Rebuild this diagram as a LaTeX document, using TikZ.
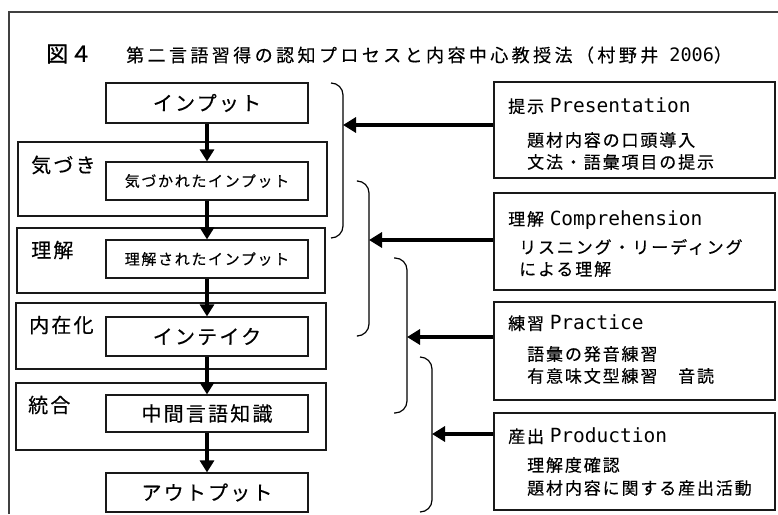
\documentclass[tikz,border=0pt]{standalone}
\usepackage{fontspec}
\setmainfont{Noto Sans CJK JP}
\newfontfamily\jp[LetterSpace=11,FakeBold=0.35]{Noto Sans CJK JP}
\newfontfamily\jpt[LetterSpace=19,FakeBold=0.35]{Noto Sans CJK JP}
\newfontfamily\jpf[LetterSpace=8,FakeBold=0.9]{Noto Sans CJK JP}
\newfontfamily\mono{DejaVu Sans Mono}
\usetikzlibrary{arrows.meta}
\begin{document}
\begin{tikzpicture}[x=1pt,y=-1pt,
  box/.style={draw=black!90, line width=1.2pt, minimum width=202pt, inner sep=0pt, font=\jp\fontsize{20}{22}\selectfont},
  grp/.style={draw=black!90, line width=1.2pt, inner sep=0pt},
  rbox/.style={draw=black!90, line width=1.2pt, inner sep=0pt, minimum width=281pt},
  glabel/.style={anchor=west, inner sep=0pt, font=\jp\fontsize{20}{22}\selectfont},
  rhead/.style={anchor=west, inner sep=0pt, font=\jp\fontsize{17}{19}\selectfont},
  rline/.style={anchor=west, inner sep=0pt, font=\jp\fontsize{17}{19}\selectfont},
  flow/.style={line width=3.4pt, -{Triangle[length=12pt,width=14pt]}},
  feed/.style={line width=3.4pt, -{Triangle[length=13pt,width=15pt]}},
  bracket/.style={line width=1.2pt, rounded corners=12pt}]
\useasboundingbox (0,0) rectangle (778,514);
% outer frame
\coordinate (fa) at (9,514);
\coordinate (fb) at (9,12);
\coordinate (fc) at (778,12);
\draw[line width=1.5pt, black!75] (fa) -- (fb) -- (fc);
% title
\node[anchor=west, inner sep=0pt, font=\jpf\fontsize{22}{24}\selectfont] (fig) at (46,54) {図４};
\node[anchor=west, inner sep=0pt, font=\jpt\fontsize{18}{20}\selectfont] (title) at (126,55) {第二言語習得の認知プロセスと内容中心教授法（村野井{\mono\fontsize{18.5}{20}\selectfont{} 2006}）};
% groups
\node[grp, minimum width=309pt, minimum height=74pt] (g1) at (172.5,179) {};
\node[grp, minimum width=308pt, minimum height=65pt] (g2) at (171,260.5) {};
\node[grp, minimum width=310pt, minimum height=66pt] (g3) at (171,336) {};
\node[grp, minimum width=310pt, minimum height=67pt] (g4) at (171,416.5) {};
\node[glabel] (l1) at (31,165) {気づき};
\node[glabel] (l2) at (31,250) {理解};
\node[glabel] (l3) at (29,325) {内在化};
\node[glabel] (l4) at (28,405) {統合};
% flow boxes
\node[box, minimum height=40pt] (in) at (207,103) {インプット};
\node[box, minimum height=38pt, font=\jp\fontsize{15}{17}\selectfont] (kz) at (207,181) {気づかれたインプット};
\node[box, minimum height=38pt, font=\jp\fontsize{15}{17}\selectfont] (rk) at (207,259) {理解されたインプット};
\node[box, minimum height=39pt] (it) at (207,336.5) {インテイク};
\node[box, minimum height=37pt] (il) at (207,413.5) {中間言語知識};
\node[box, minimum height=39pt] (out) at (207,492.5) {アウトプット};
\draw[flow] (in) -- (kz);
\draw[flow] (kz) -- (rk);
\draw[flow] (rk) -- (it);
\draw[flow] (it) -- (il);
\draw[flow] (il) -- (out);
% brackets
\draw[bracket] (331,83) -- (343,83) -- (343,238) -- (331,238);
\coordinate (b1) at (343,125);
\draw[bracket] (358,181) -- (369,181) -- (369,336) -- (358,336);
\coordinate (b2) at (369,240);
\draw[bracket] (394,258) -- (407,258) -- (407,413) -- (394,413);
\coordinate (b3) at (407,337);
\draw[bracket] (420,357) -- (432,357) -- (432,512) -- (420,512);
\coordinate (b4) at (432,434);
% right boxes
\node[rbox, minimum height=96pt] (p1) at (634.5,130) {};
\node[rbox, minimum height=97pt] (p2) at (634.5,241.5) {};
\node[rbox, minimum height=98pt] (p3) at (634.5,351) {};
\node[rbox, minimum height=97pt] (p4) at (634.5,461.5) {};
\draw[feed] (b1 -| p1.west) -- (b1);
\draw[feed] (b2 -| p2.west) -- (b2);
\draw[feed] (b3 -| p3.west) -- (b3);
\draw[feed] (b4 -| p4.west) -- (b4);
% right texts
\newcommand\lat[1]{{\mono\fontsize{19.5}{20}\selectfont#1}}
\node[rhead] (p1h) at (508,106) {提示 \lat{Presentation}};
\node[rline] (p1a) at (527,140) {題材内容の口頭導入};
\node[rline] (p1b) at (527,162) {文法・語彙項目の提示};
\node[rhead] (p2h) at (508,220) {理解 \lat{Comprehension}};
\node[rline] (p2a) at (519,247) {リスニング・リーディング};
\node[rline] (p2b) at (519,269) {による理解};
\node[rhead] (p3h) at (508,323) {練習 \lat{Practice}};
\node[rline] (p3a) at (527,354) {語彙の発音練習};
\node[rline] (p3b) at (527,376) {有意味文型練習　音読};
\node[rhead] (p4h) at (508,436) {産出 \lat{Production}};
\node[rline] (p4a) at (527,465) {理解度確認};
\node[rline] (p4b) at (527,488) {題材内容に関する産出活動};
\end{tikzpicture}
\end{document}
